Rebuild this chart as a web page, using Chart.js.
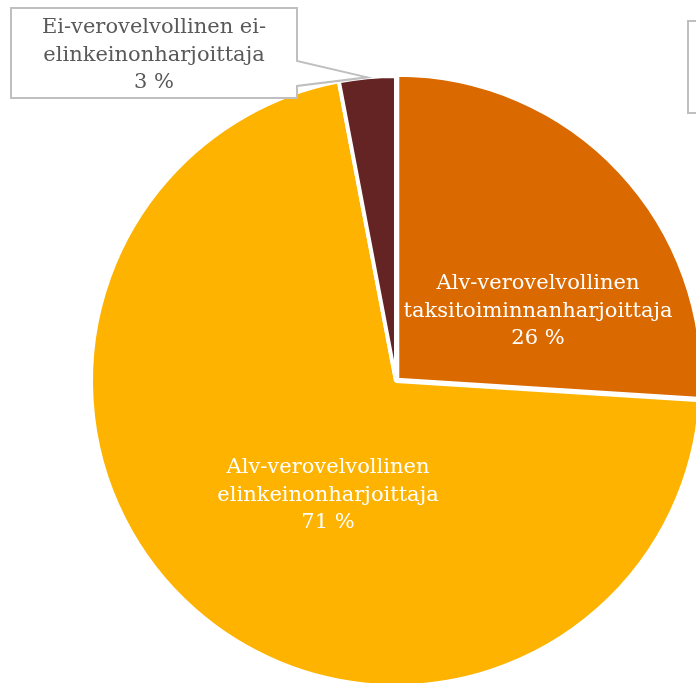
<!DOCTYPE html>
<html lang="fi">
<head>
<meta charset="utf-8">
<title>Asiakasjakauma</title>
<script src="https://cdn.jsdelivr.net/npm/chart.js@4.4.1/dist/chart.umd.min.js"></script>
<style>
  html, body {
    margin: 0;
    padding: 0;
    background: #ffffff;
    overflow: hidden;
    width: 696px;
    height: 683px;
  }
  #wrap {
    position: absolute;
    left: -4px;
    top: -19px;
    width: 800px;
    height: 800px;
  }
</style>
</head>
<body>
<div id="wrap"><canvas id="share-chart" width="800" height="800"></canvas></div>
<script>
const categoryLabels = [
  ["Alv-verovelvollinen", "taksitoiminnanharjoittaja"],
  ["Alv-verovelvollinen", "elinkeinonharjoittaja"],
  ["Ei-verovelvollinen ei-", "elinkeinonharjoittaja"],
];
const shareValues = [26, 71, 3];
const sliceColors = ["#DA6900", "#FDB300", "#632423"];

const labelFont = '21px "DejaVu Serif", Georgia, serif';
const lineHeight = 27.5;

const shareCanvas = document.getElementById("share-chart");

function formatPercent(value) {
  return value + " %";
}

function drawLines(ctx, lines, x, firstBaseline) {
  lines.forEach((line, i) => {
    ctx.fillText(line, x, firstBaseline + i * lineHeight);
  });
}

// labels drawn like the excel data labels: two inside, one in a callout box
const dataLabelPlugin = {
  id: "dataLabels",
  afterDatasetsDraw(chart) {
    const ctx = chart.ctx;
    const arcs = chart.getDatasetMeta(0).data;
    const cx = arcs[1].x;
    const cy = arcs[1].y;

    ctx.save();
    ctx.font = labelFont;
    ctx.textAlign = "center";
    ctx.textBaseline = "alphabetic";

    // inside labels
    ctx.fillStyle = "#ffffff";
    drawLines(ctx, [...categoryLabels[0], formatPercent(shareValues[0])], cx + 142, cy - 92);
    drawLines(ctx, [...categoryLabels[1], formatPercent(shareValues[1])], cx - 68, cy + 92);

    // callout for the small slice
    const small = arcs[2];
    const mid = (small.startAngle + small.endAngle) / 2;
    const tipX = small.x + Math.cos(mid) * small.outerRadius;
    const tipY = small.y + Math.sin(mid) * small.outerRadius;
    const left = cx - 385;
    const top = cy - 373;
    const right = cx - 99;
    const bottom = cy - 283;

    ctx.strokeStyle = "#BFBFBF";
    ctx.lineWidth = 2;
    ctx.fillStyle = "#ffffff";
    ctx.beginPath();
    ctx.moveTo(left, top);
    ctx.lineTo(right, top);
    ctx.lineTo(right, top + 53);
    ctx.lineTo(tipX, tipY);
    ctx.lineTo(right, top + 78);
    ctx.lineTo(right, bottom);
    ctx.lineTo(left, bottom);
    ctx.closePath();
    ctx.fill();
    ctx.stroke();

    ctx.fillStyle = "#595959";
    drawLines(ctx, [...categoryLabels[2], formatPercent(shareValues[2])], (left + right) / 2, top + 25);

    // edge of a callout that falls outside the picture
    ctx.strokeRect(cx + 292, cy - 360, 120, 92);
    ctx.restore();
  },
};

new Chart(shareCanvas, {
  type: "pie",
  data: {
    labels: categoryLabels.map((l) => l.join(" ")),
    datasets: [
      {
        data: shareValues,
        backgroundColor: sliceColors,
        borderColor: "#ffffff",
        borderWidth: 4,
        offset: [7, 0, 0],
        radius: 305,
      },
    ],
  },
  options: {
    responsive: false,
    animation: false,
    layout: { padding: 0 },
    plugins: {
      legend: { display: false },
      tooltip: { enabled: false },
    },
  },
  plugins: [dataLabelPlugin],
});
</script>
</body>
</html>
